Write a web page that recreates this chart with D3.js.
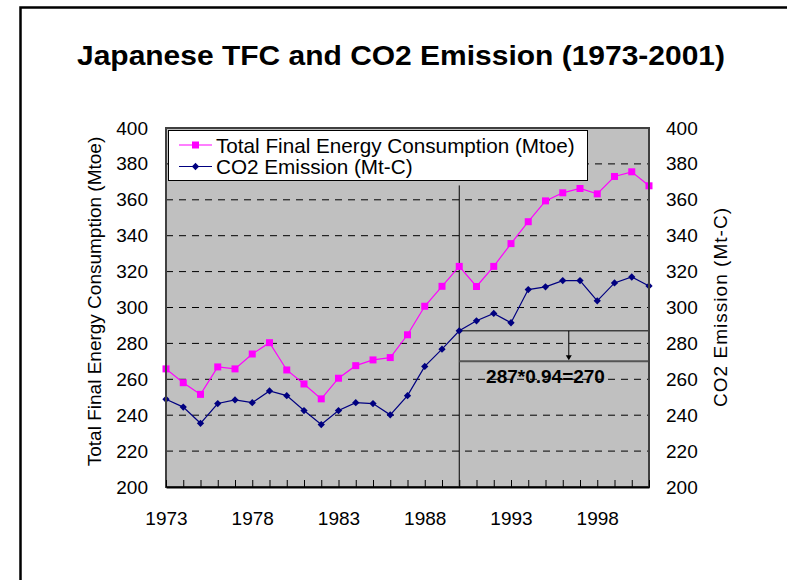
<!DOCTYPE html>
<html lang="en">
<head>
<meta charset="utf-8">
<title>Japanese TFC and CO2 Emission (1973-2001)</title>
<script src="https://d3js.org/d3.v7.min.js"></script>
<style>
  body { margin: 0; background: #fff; }
  svg text { font-family: "Liberation Sans", Arial, sans-serif; fill: #000; }
</style>
</head>
<body>
<div id="chart"></div>
<script>
// data
var years = [1973, 1974, 1975, 1976, 1977, 1978, 1979, 1980, 1981, 1982,
             1983, 1984, 1985, 1986, 1987, 1988, 1989, 1990, 1991, 1992,
             1993, 1994, 1995, 1996, 1997, 1998, 1999, 2000, 2001]
var tfc = [265.8, 258.1, 251.6, 266.9, 265.8, 274.1, 280.4, 265.2, 257.4, 249.1,
           260.6, 267.6, 270.8, 272.1, 284.8, 300.7, 311.8, 322.9, 311.7, 322.9,
           335.6, 347.8, 359.4, 363.9, 366.3, 363.3, 373.0, 375.6, 367.8]
var co2 = [248.9, 244.5, 235.5, 246.5, 248.5, 247.0, 253.5, 250.9, 242.6, 234.8,
           242.6, 247.0, 246.5, 240.2, 250.9, 267.2, 276.8, 287.0, 292.6, 296.7,
           291.5, 310.0, 311.5, 315.0, 315.0, 303.7, 313.7, 317.0, 312.0]
var yTicks = [200, 220, 240, 260, 280, 300, 320, 340, 360, 380, 400]
var xLabels = [1973, 1978, 1983, 1988, 1993, 1998]
var seriesNames = ["Total Final Energy Consumption (Mtoe)", "CO2 Emission (Mt-C)"]

// annotation: base year value and reduction target
var baseYear = 1990, baseValue = 287, targetValue = 270
var annoText = "287*0.94=270"

var width = 787, height = 580
var margin = {left: 166, top: 128, right: 138, bottom: 93}
var plotW = width - margin.left - margin.right
var plotH = height - margin.top - margin.bottom

var svg = d3.select("#chart").append("svg")
    .attr("width", width)
    .attr("height", height)

// outer chart frame (only top/left edges visible)
svg.append("rect")
    .attr("x", 20.5).attr("y", 7.5)
    .attr("width", 900).attr("height", 700)
    .attr("fill", "none").attr("stroke", "#000").attr("stroke-width", 2.5)

svg.append("text")
    .attr("x", 401).attr("y", 65)
    .attr("text-anchor", "middle")
    .attr("font-size", 28).attr("font-weight", "bold")
    .attr("textLength", 648).attr("lengthAdjust", "spacingAndGlyphs")
    .text("Japanese TFC and CO2 Emission (1973-2001)")

var x = d3.scaleLinear().domain([1973, 2001]).range([0, plotW])
var y = d3.scaleLinear().domain([200, 400]).range([plotH, 0])

var g = svg.append("g").attr("transform", "translate(" + margin.left + "," + margin.top + ")")

g.append("rect")
    .attr("width", plotW).attr("height", plotH)
    .attr("fill", "#c0c0c0")

// dashed gridlines
g.append("g").selectAll("line")
    .data(yTicks.filter(function(d){ return d > 200 && d < 400 }))
    .join("line")
    .attr("x1", 0).attr("x2", plotW)
    .attr("y1", function(d){ return y(d) }).attr("y2", function(d){ return y(d) })
    .attr("stroke", "#000").attr("stroke-width", 1)
    .attr("stroke-dasharray", "7,6")

// annotation lines
g.append("line")
    .attr("x1", x(baseYear)).attr("x2", x(baseYear))
    .attr("y1", y(368)).attr("y2", y(200))
    .attr("stroke", "#000").attr("stroke-width", 1)
g.append("line")
    .attr("x1", x(baseYear)).attr("x2", x(2001))
    .attr("y1", y(baseValue)).attr("y2", y(baseValue))
    .attr("stroke", "#000").attr("stroke-width", 1)
g.append("line")
    .attr("x1", x(baseYear)).attr("x2", x(2001))
    .attr("y1", y(targetValue)).attr("y2", y(targetValue))
    .attr("stroke", "#555").attr("stroke-width", 2)

var ax = x(1996.35)
g.append("line")
    .attr("x1", ax).attr("x2", ax)
    .attr("y1", y(baseValue)).attr("y2", y(targetValue) - 5)
    .attr("stroke", "#000").attr("stroke-width", 1)
g.append("path")
    .attr("d", "M" + (ax - 3) + "," + (y(targetValue) - 6) + "L" + (ax + 3) + "," + (y(targetValue) - 6) + "L" + ax + "," + (y(targetValue) - 1) + "Z")
    .attr("fill", "#000")

g.append("text")
    .attr("x", x(1995)).attr("y", y(257.8))
    .attr("text-anchor", "middle")
    .attr("font-size", 19).attr("font-weight", "bold")
    .text(annoText)

// series
var lineGen = d3.line()
    .x(function(d, i){ return x(years[i]) })
    .y(function(d){ return y(d) })

g.append("path").datum(tfc)
    .attr("d", lineGen).attr("fill", "none")
    .attr("stroke", "#ff00ff").attr("stroke-width", 1.2)
g.append("path").datum(co2)
    .attr("d", lineGen).attr("fill", "none")
    .attr("stroke", "#000080").attr("stroke-width", 1.2)

var square = d3.symbol().type(d3.symbolSquare).size(49)
var diamond = d3.symbol().type(d3.symbolDiamond2).size(34)

g.append("g").selectAll("path")
    .data(tfc).join("path")
    .attr("d", square)
    .attr("transform", function(d, i){ return "translate(" + x(years[i]) + "," + y(d) + ")" })
    .attr("fill", "#ff00ff")
g.append("g").selectAll("path")
    .data(co2).join("path")
    .attr("d", diamond)
    .attr("transform", function(d, i){ return "translate(" + x(years[i]) + "," + y(d) + ")" })
    .attr("fill", "#000080")

// plot frame
g.append("rect")
    .attr("width", plotW).attr("height", plotH)
    .attr("fill", "none").attr("stroke", "#404040").attr("stroke-width", 2)

// axes
var xAxis = d3.axisBottom(x)
    .tickValues(years)
    .tickFormat(function(d){ return xLabels.indexOf(d) >= 0 ? d : "" })
    .tickSizeInner(-7).tickSizeOuter(0).tickPadding(25)
g.append("g").attr("transform", "translate(0," + plotH + ")").call(xAxis)
    .call(function(s){
      s.select(".domain").attr("stroke", "#000").attr("stroke-width", 2)
      s.selectAll(".tick line").attr("stroke", "#000")
      s.selectAll("text").attr("font-size", 19).attr("font-family", null)
    })

var yLeft = d3.axisLeft(y).tickValues(yTicks).tickSize(0).tickPadding(18)
g.append("g").call(yLeft)
    .call(function(s){
      s.select(".domain").remove()
      s.selectAll("text").attr("font-size", 19).attr("font-family", null)
    })

var yRight = d3.axisRight(y).tickValues(yTicks).tickSize(0).tickPadding(17)
g.append("g").attr("transform", "translate(" + plotW + ",0)").call(yRight)
    .call(function(s){
      s.select(".domain").remove()
      s.selectAll("text").attr("font-size", 19).attr("font-family", null)
    })

// axis titles
svg.append("text")
    .attr("transform", "translate(100.5,301.5) rotate(-90)")
    .attr("text-anchor", "middle").attr("font-size", 19)
    .text(seriesNames[0])
svg.append("text")
    .attr("transform", "translate(727,307.5) rotate(-90)")
    .attr("text-anchor", "middle").attr("font-size", 19)
    .attr("textLength", 199).attr("lengthAdjust", "spacing")
    .text(seriesNames[1])

// legend
var lg = svg.append("g")
lg.append("rect")
    .attr("x", 168.5).attr("y", 130.5)
    .attr("width", 419).attr("height", 50)
    .attr("fill", "#fff").attr("stroke", "#000").attr("stroke-width", 1)

var legendRows = [
  {name: seriesNames[0], color: "#ff00ff", sym: square, cy: 145},
  {name: seriesNames[1], color: "#000080", sym: diamond, cy: 166.5}
]
legendRows.forEach(function(r){
  lg.append("line")
      .attr("x1", 179).attr("x2", 212)
      .attr("y1", r.cy).attr("y2", r.cy)
      .attr("stroke", r.color).attr("stroke-width", 1.2)
  lg.append("path")
      .attr("d", r.sym)
      .attr("transform", "translate(195.5," + r.cy + ")")
      .attr("fill", r.color)
  lg.append("text")
      .attr("x", 216).attr("y", r.cy + 7.5)
      .attr("font-size", 20.7)
      .text(r.name)
})
</script>
</body>
</html>
